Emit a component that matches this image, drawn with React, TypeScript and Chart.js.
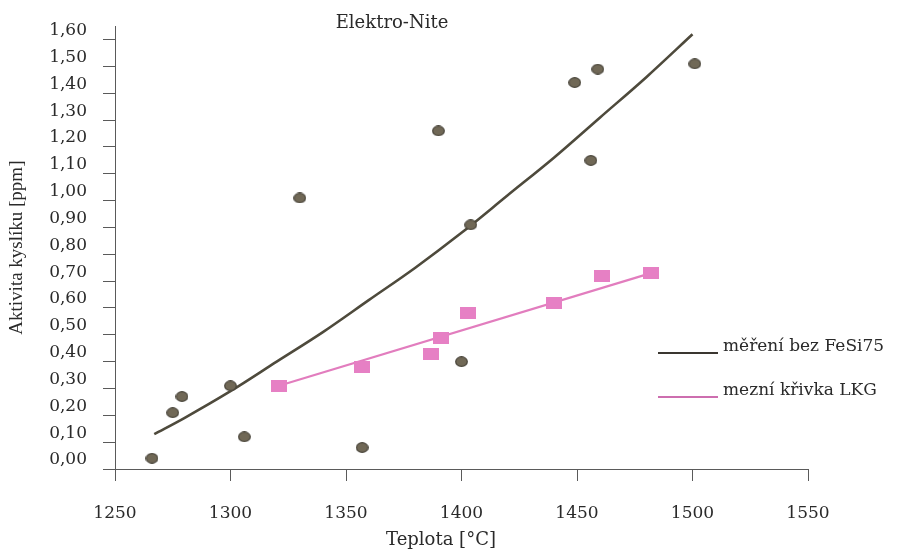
import React, { useEffect, useRef } from "react";
import { Chart, registerables } from "chart.js";

Chart.register(...registerables);

// ---- data ----
const chartTitle = "Elektro-Nite";
const xAxisTitle = "Teplota [°C]";
const yAxisTitle = "Aktivita kyslíku [ppm]";
const legendLabels = ["měření bez FeSi75", "mezní křivka LKG"];

// measured points (dark circles)
const measuredTemp = [1266, 1275, 1279, 1300, 1306, 1330, 1357, 1390, 1400, 1404, 1449, 1456, 1459, 1501];
const measuredAct = [0.04, 0.21, 0.27, 0.31, 0.12, 1.01, 0.08, 1.26, 0.4, 0.91, 1.44, 1.15, 1.49, 1.51];

const trendTemp = [1267, 1280, 1300, 1320, 1340, 1360, 1380, 1400, 1420, 1440, 1460, 1480, 1500];
const trendAct = [0.13, 0.19, 0.29, 0.4, 0.51, 0.63, 0.75, 0.88, 1.02, 1.16, 1.31, 1.46, 1.62];

// LKG limit points (pink squares)
const lkgTemp = [1321, 1357, 1387, 1391, 1403, 1440, 1461, 1482];
const lkgAct = [0.31, 0.38, 0.43, 0.49, 0.58, 0.62, 0.72, 0.73];

// LKG limit line end points
const lkgLineTemp = [1321, 1482];
const lkgLineAct = [0.31, 0.73];

// axes
const xMin = 1250;
const xMax = 1550;
const xTickValues = [1250, 1300, 1350, 1400, 1450, 1500, 1550];
const yMin = 0;
const yMax = 1.65;
const yTickValues = [0, 0.1, 0.2, 0.3, 0.4, 0.5, 0.6, 0.7, 0.8, 0.9, 1.0, 1.1, 1.2, 1.3, 1.4, 1.5, 1.6];

const DARK = "rgb(78,74,60)";
const POINT_FILL = "rgb(112,104,86)";
const PINK = "rgb(230,128,196)";
const PINK_LINE = "rgb(226,125,190)";
const AXIS = "#5a5a5a";
const TEXT = "#2a2a2a";

function makeEllipse(w: number, h: number, fill: string, stroke: string) {
  const c = document.createElement("canvas");
  c.width = w;
  c.height = h;
  const ctx = c.getContext("2d")!;
  ctx.beginPath();
  ctx.ellipse(w / 2, h / 2, w / 2 - 0.7, h / 2 - 0.7, 0, 0, Math.PI * 2);
  ctx.fillStyle = fill;
  ctx.fill();
  ctx.lineWidth = 1.2;
  ctx.strokeStyle = stroke;
  ctx.stroke();
  return c;
}

function makeRect(w: number, h: number, fill: string) {
  const c = document.createElement("canvas");
  c.width = w;
  c.height = h;
  const ctx = c.getContext("2d")!;
  ctx.fillStyle = fill;
  ctx.fillRect(0, 0, w, h);
  return c;
}

const textPlugin = {
  id: "customTexts",
  afterDraw(chart: any) {
    const ctx = chart.ctx as CanvasRenderingContext2D;
    ctx.save();
    ctx.fillStyle = TEXT;
    ctx.textBaseline = "alphabetic";
    // title
    ctx.font = '18px "DejaVu Serif"';
    ctx.textAlign = "center";
    ctx.fillText(chartTitle, 392, 28);
    // x axis title
    ctx.font = '18px "DejaVu Serif"';
    ctx.fillText(xAxisTitle, 441, 545);
    // legend
    ctx.textAlign = "left";
    ctx.font = '17px "DejaVu Serif"';
    const rows = [
      { y: 351, color: "#3a3630", label: legendLabels[0] },
      { y: 395, color: "rgb(205,110,175)", label: legendLabels[1] },
    ];
    rows.forEach((r) => {
      ctx.beginPath();
      ctx.strokeStyle = r.color;
      ctx.lineWidth = 1.8;
      ctx.moveTo(658, r.y + 2);
      ctx.lineTo(718, r.y + 2);
      ctx.stroke();
      ctx.fillText(r.label, 723, r.y);
    });
    ctx.restore();
  },
};

export default function App() {
  const ref = useRef<HTMLCanvasElement | null>(null);

  useEffect(() => {
    if (!ref.current) return;
    const circle = makeEllipse(13, 11, POINT_FILL, "rgb(72,68,58)");
    const square = makeRect(16, 12, PINK);

    const chart = new Chart(ref.current, {
      type: "scatter",
      data: {
        datasets: [
          {
            label: legendLabels[0],
            data: trendTemp.map((x, i) => ({ x, y: trendAct[i] })),
            showLine: true,
            borderColor: DARK,
            borderWidth: 2.6,
            pointRadius: 0,
            cubicInterpolationMode: "monotone",
            order: 1,
          },
          {
            label: legendLabels[1],
            data: lkgLineTemp.map((x, i) => ({ x, y: lkgLineAct[i] })),
            showLine: true,
            borderColor: PINK_LINE,
            borderWidth: 2.2,
            pointRadius: 0,
            order: 3,
          },
          {
            label: "LKG body",
            data: lkgTemp.map((x, i) => ({ x, y: lkgAct[i] })),
            pointStyle: square as any,
            pointRadius: 8,
            order: 2,
          },
          {
            label: "měření",
            data: measuredTemp.map((x, i) => ({ x, y: measuredAct[i] })),
            pointStyle: circle as any,
            pointRadius: 7,
            order: 0,
          },
        ],
      },
      options: {
        responsive: false,
        animation: false,
        devicePixelRatio: 1,
        layout: { padding: { top: 19.5, right: 89, bottom: 0, left: 0 } },
        plugins: {
          legend: { display: false },
          tooltip: { enabled: false },
          title: { display: false },
        },
        scales: {
          x: {
            type: "linear",
            min: xMin,
            max: xMax,
            afterFit: (s: any) => {
              s.height = 83;
            },
            afterBuildTicks: (s: any) => {
              s.ticks = xTickValues.map((value) => ({ value }));
            },
            ticks: {
              color: TEXT,
              padding: 22,
              font: { family: "DejaVu Serif", size: 17 },
              callback: (v: any) => String(v),
            },
            grid: {
              display: true,
              drawOnChartArea: false,
              drawTicks: true,
              tickLength: 12,
              color: AXIS,
            },
            border: { display: true, color: AXIS, width: 1 },
          },
          y: {
            type: "linear",
            min: yMin,
            max: yMax,
            afterFit: (s: any) => {
              s.width = 115;
            },
            afterBuildTicks: (s: any) => {
              s.ticks = yTickValues.map((value) => ({ value }));
            },
            ticks: {
              color: TEXT,
              padding: 16,
              labelOffset: -9,
              font: { family: "DejaVu Serif", size: 17 },
              callback: (v: any) => Number(v).toFixed(2).replace(".", ","),
            },
            grid: {
              display: true,
              drawOnChartArea: false,
              drawTicks: true,
              tickLength: 12,
              color: AXIS,
            },
            border: { display: true, color: AXIS, width: 1 },
            title: {
              display: true,
              text: yAxisTitle,
              color: TEXT,
              font: { family: "Liberation Serif", size: 19 },
              padding: { top: 6, bottom: 0 },
            },
          },
        },
      },
      plugins: [textPlugin],
    });
    return () => chart.destroy();
  }, []);

  return (
    <div style={{ position: "absolute", left: 0, top: 0, width: 897, height: 552, background: "#fff" }}>
      <canvas ref={ref} width={897} height={552} style={{ display: "block" }} />
    </div>
  );
}
